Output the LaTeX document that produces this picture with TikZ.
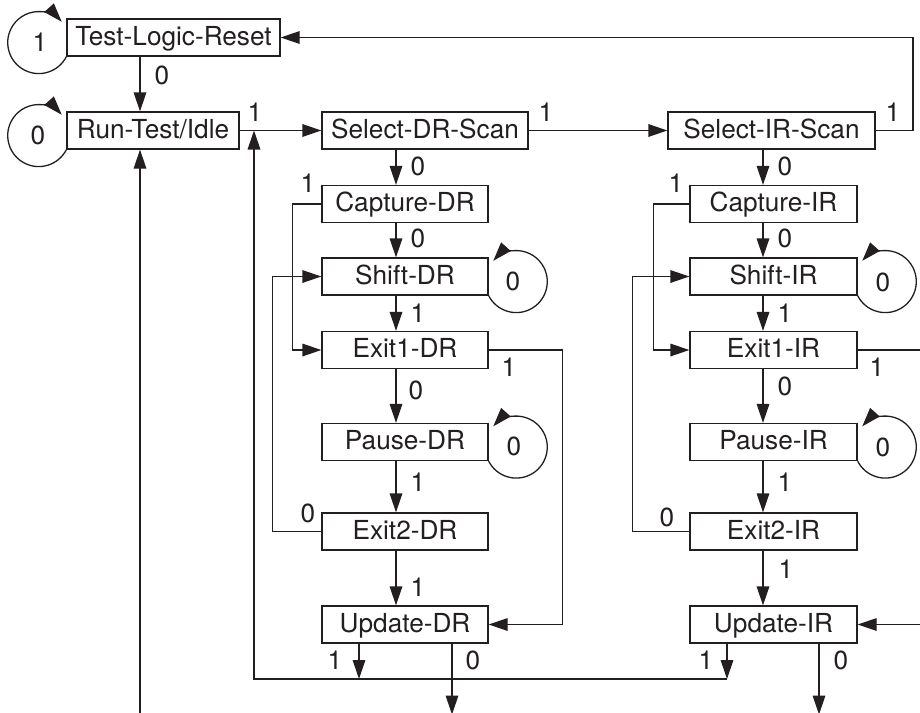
\documentclass[tikz,border=0pt]{standalone}
\usepackage{fontspec}
\setmainfont{TeX Gyre Heros}
\usepackage{tikz}
\usetikzlibrary{arrows.meta}
\definecolor{ink}{HTML}{231F20}

\begin{document}
\begin{tikzpicture}[x=5pt,y=5pt,line width=0.65pt,color=ink,
		font=\fontsize{13.1}{15.7}\selectfont,
		>={Triangle[length=9.5pt,width=6.3pt]}]
		\tikzstyle{VertexStyle}=[draw,fill=white,inner sep=0pt,minimum height=18.5pt,
			text height=10.2pt,text depth=2.4pt]
		\tikzstyle{LabelStyle}=[inner sep=0pt]
		\tikzstyle{EdgeStyle}=[->]
		\useasboundingbox (0,0) rectangle (92,-71.2);
		\clip (0,0) rectangle (92,-71.2);
		\node[VertexStyle,minimum width=106.5pt] (TLR) at (17.35,-3.75) {Test-Logic-Reset};
		\node[VertexStyle,minimum width=86pt] (RTI) at (15.3,-13.05) {Run-Test/Idle};
		\node[VertexStyle,minimum width=103pt] (SDR) at (42.5,-13.05) {Select-DR-Scan};
		\node[VertexStyle,minimum width=103.5pt] (SIR) at (77.15,-13.05) {Select-IR-Scan};
		% DR column
		\node[VertexStyle,minimum width=83pt] (CDR) at (40.5,-20.4) {Capture-DR};
		\node[VertexStyle,minimum width=83pt] (SHDR) at (40.5,-27.65) {Shift-DR};
		\node[VertexStyle,minimum width=83pt] (E1DR) at (40.5,-35) {Exit1-DR};
		\node[VertexStyle,minimum width=83pt] (PDR) at (40.5,-44.2) {Pause-DR};
		\node[VertexStyle,minimum width=83pt] (E2DR) at (40.5,-53.15) {Exit2-DR};
		\node[VertexStyle,minimum width=83pt] (UDR) at (40.5,-62.45) {Update-DR};
		% IR column
		\node[VertexStyle,minimum width=83.5pt] (CIR) at (77.35,-20.4) {Capture-IR};
		\node[VertexStyle,minimum width=83.5pt] (SHIR) at (77.35,-27.65) {Shift-IR};
		\node[VertexStyle,minimum width=83.5pt] (E1IR) at (77.35,-35) {Exit1-IR};
		\node[VertexStyle,minimum width=83.5pt] (PIR) at (77.35,-44.2) {Pause-IR};
		\node[VertexStyle,minimum width=83.5pt] (E2IR) at (77.35,-53.15) {Exit2-IR};
		\node[VertexStyle,minimum width=83.5pt] (UIR) at (77.35,-62.45) {Update-IR};
		\coordinate (Dcol) at (39.6,0);
		\coordinate (Icol) at (76.3,0);
		\coordinate (Lcol) at (14,0);
		\coordinate (Rcol) at (91.3,0);
		\coordinate (Back) at (25.4,-67.9);
		\coordinate (Dup) at (35.9,-67.9);
		\coordinate (Iup) at (72.7,-67.9);
		\coordinate (Dout) at (45.2,-71.45);
		\coordinate (Iout) at (81.9,-71.45);
		\coordinate (Lin) at (14,-72.5);
		% self loops
		\draw[EdgeStyle] (TLR.south west) arc[start angle=-27,end angle=-318,radius=3.1]
			node[LabelStyle] at (4,-4.2) {1};
		\draw[EdgeStyle] (RTI.south west) arc[start angle=-27,end angle=-318,radius=3.1]
			node[LabelStyle] at (3.8,-13.5) {0};
		\draw[EdgeStyle] (SHDR.south east) arc[start angle=207,end angle=498,radius=3.1]
			node[LabelStyle] at (51.3,-28.1) {0};
		\draw[EdgeStyle] (PDR.south east) arc[start angle=207,end angle=498,radius=3.1]
			node[LabelStyle] at (51.4,-44.6) {0};
		\draw[EdgeStyle] (SHIR.south east) arc[start angle=207,end angle=498,radius=3.1]
			node[LabelStyle] at (88.3,-28.2) {0};
		\draw[EdgeStyle] (PIR.south east) arc[start angle=207,end angle=498,radius=3.1]
			node[LabelStyle] at (88.3,-44.7) {0};
		% top row
		\draw[EdgeStyle] (TLR.south -| Lcol) -- (RTI.north -| Lcol) node[LabelStyle] at (16.2,-7.5) {0};
		\draw[EdgeStyle] (RTI.east) -- (SDR.west) node[LabelStyle] at (25.5,-11.2) {1};
		\draw[EdgeStyle] (SDR.east) -- (SIR.west) node[LabelStyle] at (54.6,-11.2) {1};
		\draw[EdgeStyle] (SIR.east) -- (SIR.east -| Rcol) |- (TLR.east) node[LabelStyle] at (89.3,-11.2) {1};
		% DR
		\draw[EdgeStyle] (SDR.south -| Dcol) -- (CDR.north -| Dcol) node[LabelStyle] at (41.8,-16.6) {0};
		\draw[EdgeStyle] (CDR.south -| Dcol) -- (SHDR.north -| Dcol) node[LabelStyle] at (41.8,-23.8) {0};
		\draw[EdgeStyle] (SHDR.south -| Dcol) -- (E1DR.north -| Dcol) node[LabelStyle] at (41.8,-31.3) {1};
		\draw[EdgeStyle] (E1DR.south -| Dcol) -- (PDR.north -| Dcol) node[LabelStyle] at (41.6,-39) {0};
		\draw[EdgeStyle] (PDR.south -| Dcol) -- (E2DR.north -| Dcol) node[LabelStyle] at (41.8,-48.2) {1};
		\draw[EdgeStyle] (E2DR.south -| Dcol) -- (UDR.north -| Dcol) node[LabelStyle] at (41.8,-58.7) {1};
		\draw[EdgeStyle] (CDR.west) -- ++(-2.9,0) |- (E1DR.west) node[LabelStyle] at (30.8,-18.3) {1};
		\draw[EdgeStyle] (E2DR.west) -- ++(-4.9,0) |- (SHDR.west) node[LabelStyle] at (30.8,-51.3) {0};
		\draw[EdgeStyle] (E1DR.east) -- ++(7.4,0) |- (UDR.east) node[LabelStyle] at (50.9,-36.7) {1};
		\draw[EdgeStyle] (UDR.south -| Dup) -- (Dup) node[LabelStyle] at (33.5,-66) {1};
		\draw[EdgeStyle] (UDR.south -| Dout) -- (Dout) node[LabelStyle] at (47.3,-66) {0};
		% IR
		\draw[EdgeStyle] (SIR.south -| Icol) -- (CIR.north -| Icol) node[LabelStyle] at (78.5,-16.6) {0};
		\draw[EdgeStyle] (CIR.south -| Icol) -- (SHIR.north -| Icol) node[LabelStyle] at (78.5,-23.8) {0};
		\draw[EdgeStyle] (SHIR.south -| Icol) -- (E1IR.north -| Icol) node[LabelStyle] at (78.5,-31.3) {1};
		\draw[EdgeStyle] (E1IR.south -| Icol) -- (PIR.north -| Icol) node[LabelStyle] at (78.5,-38.6) {0};
		\draw[EdgeStyle] (PIR.south -| Icol) -- (E2IR.north -| Icol) node[LabelStyle] at (78.5,-48.2) {1};
		\draw[EdgeStyle] (E2IR.south -| Icol) -- (UIR.north -| Icol) node[LabelStyle] at (78.6,-56.9) {1};
		\draw[EdgeStyle] (CIR.west) -- ++(-3.6,0) |- (E1IR.west) node[LabelStyle] at (67.6,-18.3) {1};
		\draw[EdgeStyle] (E2IR.west) -- ++(-5.7,0) |- (SHIR.west) node[LabelStyle] at (66.7,-51.7) {0};
		\draw[EdgeStyle] (E1IR.east) -- ++(7.4,0) |- (UIR.east) node[LabelStyle] at (87.7,-36.7) {1};
		\draw[EdgeStyle] (UIR.south -| Iup) -- (Iup) node[LabelStyle] at (70.6,-66) {1};
		\draw[EdgeStyle] (UIR.south -| Iout) -- (Iout) node[LabelStyle] at (84.1,-66) {0};
		% back to the scan rows
		\draw[EdgeStyle] (Iup) -- (Back) -- (Back |- RTI.east);
		\draw[EdgeStyle] (Lin) -- (RTI.south -| Lin);
	\end{tikzpicture}
\end{document}
